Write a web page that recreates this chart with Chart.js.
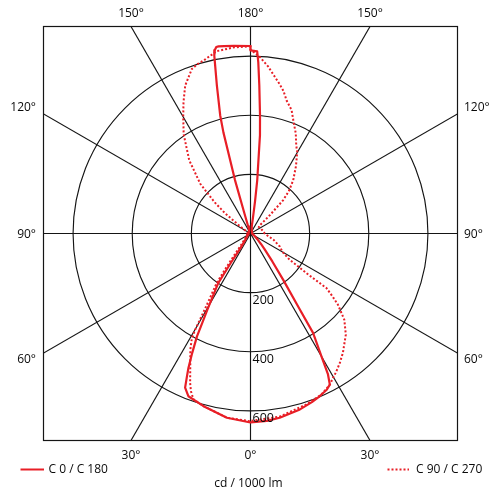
<!DOCTYPE html>
<html><head><meta charset="utf-8">
<script src="https://cdn.jsdelivr.net/npm/chart.js@4"></script>
<style>html,body{margin:0;padding:0;background:#fff}</style>
</head><body>
<canvas id="c" width="500" height="500"></canvas>
<script>
// gamma angle (deg, 0 = straight down, 180 = straight up) and intensity (cd / 1000 lm)
const c0Gamma   = [0, 5, 9, 15.7, 20, 23, 26, 27.7, 28.8, 30.2, 32.2, 33.1, 35.2, 38, 42, 45, 50, 60, 75, 90, 120, 140, 160, 170, 171, 172, 172.8, 174.5, 175.4, 176.6, 177.4, 177.9, 180];
const c0Values  = [639, 636, 631, 618, 607, 598, 588, 577, 544, 471, 397, 295, 192, 120, 70, 50, 30, 15, 8, 5, 6, 8, 12, 25, 50, 110, 182, 334, 401, 502, 580, 616, 619];

const c180Gamma  = [0, 7.3, 15.2, 20.9, 23, 24, 24.8, 26, 27.5, 28.1, 29.5, 33.1, 33.8, 34.5, 40, 50, 60, 90, 120, 150, 160, 162, 163, 163.8, 165, 165.6, 167.2, 168.5, 169, 169.6, 170.3, 172, 175, 180];
const c180Values = [639, 628, 605, 589, 566, 528, 500, 450, 392, 356, 296, 200, 120, 60, 25, 15, 10, 5, 6, 10, 15, 25, 60, 188, 354, 412, 513, 614, 632, 641, 642, 640, 637, 634];

const c90Gamma  = [0, 9.1, 18.1, 23.8, 27.7, 29.8, 31.5, 34.6, 37.8, 43.3, 47.4, 50.8, 52.5, 54.3, 54.6, 56.1, 60, 65.9, 75, 84.7, 90, 100, 110, 120, 128, 131, 133.5, 135.6, 138, 141.3, 146, 150.2, 152.5, 155.7, 158.5, 161.6, 164.8, 167, 169, 172, 174, 177, 180];
const c90Values = [634, 627, 608, 595, 577, 562, 552, 532, 510, 470, 431, 382, 350, 316, 240, 160, 125, 109, 80, 55, 48, 44, 40, 38, 36, 40, 91, 158, 195, 231, 275, 318, 335, 372, 400, 440, 466, 495, 515, 545, 568, 598, 622];

const c270Gamma  = [0, 7.3, 15.2, 19, 20.7, 22, 24.4, 27.4, 29.3, 29.9, 31.3, 34.3, 35.3, 36.5, 40, 50, 70, 90, 110, 120, 125, 128.5, 131, 134.7, 140.1, 146, 150, 153, 156.2, 160.4, 162.6, 164.8, 169.5, 175, 180];
const c270Values = [635, 628, 605, 593, 570, 545, 493, 442, 405, 375, 289, 203, 150, 100, 45, 22, 12, 10, 12, 20, 45, 110, 160, 239, 323, 404, 455, 499, 547, 591, 600, 606, 627, 632, 633];

const ringValues = [200, 400, 600];
const ringLabels = ['200', '400', '600'];
const spokeAngles = [0, 30, 60, 90, 120, 150];
const topTickLabels = ['150°', '180°', '150°'];
const bottomTickLabels = ['30°', '0°', '30°'];
const sideTickLabels = ['120°', '90°', '60°'];
const legendLabels = ['C 0 / C 180', 'C 90 / C 270'];
const unitLabel = 'cd / 1000 lm';
const axisMax = 700;

const RED = 'rgb(232,30,38)';
const GRID = '#151515';
const TEXT = '#0a0a0a';
const FONT = '"Open Sans", "Noto Sans", sans-serif';

function pt(g, v, side) {
  const a = g * Math.PI / 180;
  return { x: side * v * Math.sin(a), y: -v * Math.cos(a) };
}
// closed curve: left half lower (90->0), right half (0->180), left half upper (180->90)
function buildCurve(rightG, rightV, leftG, leftV) {
  const out = [];
  for (let i = leftG.length - 1; i >= 0; i--) if (leftG[i] <= 90) out.push(pt(leftG[i], leftV[i], -1));
  for (let i = 0; i < rightG.length; i++) out.push(pt(rightG[i], rightV[i], 1));
  for (let i = leftG.length - 1; i >= 0; i--) if (leftG[i] >= 90) out.push(pt(leftG[i], leftV[i], -1));
  return out;
}

const polarGrid = {
  id: 'polarGrid',
  beforeDatasetsDraw(chart) {
    const { ctx, chartArea: a, scales: { x, y } } = chart;
    const cx = x.getPixelForValue(0), cy = y.getPixelForValue(0);
    ctx.save();
    ctx.beginPath();
    ctx.rect(a.left, a.top, a.right - a.left, a.bottom - a.top);
    ctx.clip();
    ctx.strokeStyle = GRID;
    ctx.lineWidth = 1.15;
    ringValues.forEach(v => {
      const rx = x.getPixelForValue(v) - cx;
      const ry = cy - y.getPixelForValue(v);
      ctx.beginPath();
      ctx.ellipse(cx, cy, rx, ry, 0, 0, Math.PI * 2);
      ctx.stroke();
    });
    spokeAngles.forEach(d => {
      const t = d * Math.PI / 180, L = axisMax * 3;
      ctx.beginPath();
      ctx.moveTo(x.getPixelForValue(-L * Math.sin(t)), y.getPixelForValue(-L * Math.cos(t)));
      ctx.lineTo(x.getPixelForValue(L * Math.sin(t)), y.getPixelForValue(L * Math.cos(t)));
      ctx.stroke();
    });
    ctx.restore();
    ctx.save();
    ctx.strokeStyle = GRID;
    ctx.lineWidth = 1.2;
    ctx.strokeRect(a.left, a.top, a.right - a.left, a.bottom - a.top);
    ctx.restore();
  },
  afterDatasetsDraw(chart) {
    const { ctx, chartArea: a, scales: { x, y } } = chart;
    const cx = x.getPixelForValue(0), cy = y.getPixelForValue(0);
    const off = axisMax * Math.tan(Math.PI / 6);
    ctx.save();
    ctx.fillStyle = TEXT;
    ctx.font = '12px ' + FONT;
    ctx.textBaseline = 'middle';
    ctx.textAlign = 'center';
    const xs = [x.getPixelForValue(-off), cx, x.getPixelForValue(off)];
    xs.forEach((px, i) => {
      ctx.fillText(topTickLabels[i], px, a.top - 13);
      ctx.fillText(bottomTickLabels[i], px, a.bottom + 15);
    });
    const ys = [y.getPixelForValue(off) - 6, cy + 1, y.getPixelForValue(-off) + 7];
    ys.forEach((py, i) => {
      ctx.textAlign = 'right';
      ctx.fillText(sideTickLabels[i], a.left - 7.5, py);
      ctx.textAlign = 'left';
      ctx.fillText(sideTickLabels[i], a.right + 6.5, py);
    });
    ctx.font = '12.5px ' + FONT;
    ctx.textAlign = 'left';
    ringValues.forEach((v, i) => {
      ctx.fillText(ringLabels[i], cx + 2, y.getPixelForValue(-v) + 8);
    });
    // legend
    const ds = chart.data.datasets;
    const ly = 469.5;
    ctx.font = '12px ' + FONT;
    ctx.lineWidth = 2;
    ctx.strokeStyle = ds[0].borderColor;
    ctx.setLineDash([]);
    ctx.beginPath(); ctx.moveTo(20.5, ly); ctx.lineTo(44, ly); ctx.stroke();
    ctx.fillText(legendLabels[0], 48.5, ly);
    ctx.strokeStyle = ds[1].borderColor;
    ctx.setLineDash(ds[1].borderDash);
    ctx.beginPath(); ctx.moveTo(387.5, ly); ctx.lineTo(409, ly); ctx.stroke();
    ctx.setLineDash([]);
    ctx.fillText(legendLabels[1], 416, ly);
    ctx.textAlign = 'center';
    ctx.fillText(unitLabel, 248.5, 484);
    ctx.restore();
  }
};

new Chart(document.getElementById('c'), {
  type: 'scatter',
  data: {
    datasets: [
      { label: legendLabels[0], data: buildCurve(c0Gamma, c0Values, c180Gamma, c180Values),
        showLine: true, borderColor: RED, borderWidth: 2.2, pointRadius: 0, tension: 0, fill: false,
        borderJoinStyle: 'round' },
      { label: legendLabels[1], data: buildCurve(c90Gamma, c90Values, c270Gamma, c270Values),
        showLine: true, borderColor: RED, borderWidth: 2, borderDash: [2, 2], pointRadius: 0, tension: 0, fill: false }
    ]
  },
  options: {
    responsive: false,
    animation: false,
    devicePixelRatio: 1,
    layout: { padding: { left: 43.5, right: 42.5, top: 26.5, bottom: 59.5 } },
    scales: {
      x: { type: 'linear', min: -axisMax, max: axisMax, display: false },
      y: { type: 'linear', min: -axisMax, max: axisMax, display: false }
    },
    plugins: { legend: { display: false }, tooltip: { enabled: false } }
  },
  plugins: [polarGrid]
});
</script>
</body></html>
